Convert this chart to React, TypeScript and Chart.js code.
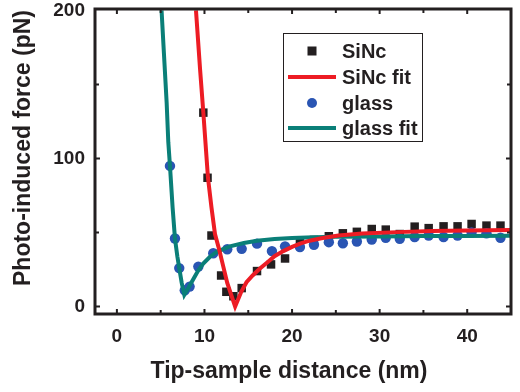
import React, { useEffect, useRef } from "react";
import { Chart, registerables } from "chart.js";

Chart.register(...registerables);

// ---- Data ----
const sincX = [9.87, 10.35, 10.8, 11.9, 12.5, 13.3, 14.25, 16.0, 17.6, 19.2, 20.9, 22.5, 24.2, 25.8, 27.4, 29.1, 30.7, 32.3, 34.0, 35.6, 37.3, 38.9, 40.5, 42.2, 43.8, 45.4];
const sincY = [131, 87, 48, 21, 10, 7, 12.5, 24, 28.5, 32.5, 43, 45, 47.5, 49.5, 50.5, 52.4, 52, 49, 54, 53, 54.2, 54.2, 55.8, 54.7, 54.7, 55];

const glassX = [6.06, 6.63, 7.12, 7.75, 8.3, 9.3, 11.0, 12.6, 14.25, 16.0, 17.7, 19.2, 20.9, 22.5, 24.2, 25.8, 27.4, 29.1, 30.7, 32.3, 34.0, 35.6, 37.3, 38.9, 40.5, 42.2, 43.8, 45.4];
const glassY = [95, 46, 26, 11, 13.5, 27, 36, 38.7, 39, 42.5, 37.5, 40.7, 40.2, 41.8, 43.5, 42.8, 44, 45.3, 46.5, 45.8, 47, 48, 47, 48, 50, 49.5, 46.5, 50];

const sincFitX = [9.03, 9.5, 9.87, 10.4, 10.8, 11.2, 11.7, 12.15, 12.6, 13.5, 14.2, 14.8, 15.5, 16.3, 17.2, 18.0, 19.0, 20.0, 21.0, 22.0, 23.5, 25.3, 28.0, 32.0, 36.0, 40.0, 45.0];
const sincFitY = [200, 160, 131, 87, 67, 49, 38, 27, 16, 0, 10, 16.5, 21, 25.5, 30, 34, 37.5, 40.3, 42.7, 44.5, 46.3, 48, 49.3, 50.3, 51, 51.4, 51.8];

const glassFitX = [5.1, 5.37, 5.68, 5.87, 6.06, 6.36, 6.63, 6.9, 7.12, 7.4, 7.7, 8.2, 8.72, 9.3, 9.86, 10.6, 11.4, 12.9, 14.5, 16.0, 18.0, 20.0, 22.5, 25.0, 30.0, 35.0, 40.0, 45.0];
const glassFitY = [200, 171, 138, 111, 95, 67, 46, 34, 26, 16, 8, 13, 18.5, 24.5, 29, 33.5, 37, 40.7, 43, 44.5, 45.7, 46.3, 46.8, 47.1, 47.4, 47.6, 47.7, 47.8];

const xTicks = [0, 10, 20, 30, 40];
const xMinorTicks = [5, 15, 25, 35, 45];
const yTicks = [0, 100, 200];
const yMinorTicks = [50, 150];

const legendLabels = ["SiNc", "SiNc fit", "glass", "glass fit"];
const xTitle = "Tip-sample distance (nm)";
const yTitle = "Photo-induced force (pN)";

const INK = "#231f20";
const RED = "#ed1c24";
const TEAL = "#0a7f78";
const BLUE = "#2a55b3";
const FONT = '"Liberation Sans", Arial, Helvetica, sans-serif';

const zip = (xs: number[], ys: number[]) => xs.map((x, i) => ({ x, y: ys[i] }));

const framePlugin = {
  id: "frameAndLegend",
  afterDraw(chart: any) {
    const { ctx, chartArea: a, scales } = chart;
    const xs = scales.x;
    const ys = scales.y;
    ctx.save();
    // frame
    ctx.strokeStyle = INK;
    ctx.lineWidth = 3;
    ctx.strokeRect(a.left, a.top, a.right - a.left, a.bottom - a.top);
    // inward ticks
    ctx.lineWidth = 2;
    const drawX = (v: number, len: number) => {
      const p = xs.getPixelForValue(v);
      if (p < a.left + 2 || p > a.right - 2) return;
      ctx.beginPath();
      ctx.moveTo(p, a.bottom);
      ctx.lineTo(p, a.bottom - len);
      ctx.moveTo(p, a.top);
      ctx.lineTo(p, a.top + len);
      ctx.stroke();
    };
    const drawY = (v: number, len: number) => {
      const p = ys.getPixelForValue(v);
      if (p < a.top + 2 || p > a.bottom - 2) return;
      ctx.beginPath();
      ctx.moveTo(a.left, p);
      ctx.lineTo(a.left + len, p);
      ctx.moveTo(a.right, p);
      ctx.lineTo(a.right - len, p);
      ctx.stroke();
    };
    xTicks.forEach((v) => drawX(v, 5));
    xMinorTicks.forEach((v) => drawX(v, 4));
    yTicks.forEach((v) => drawY(v, 5));
    yMinorTicks.forEach((v) => drawY(v, 4));

    // axis titles
    ctx.fillStyle = INK;
    ctx.font = `bold 23px ${FONT}`;
    ctx.textAlign = "center";
    ctx.textBaseline = "middle";
    ctx.fillText(xTitle, 289, 372);
    ctx.save();
    ctx.translate(24, 148);
    ctx.rotate(-Math.PI / 2);
    ctx.fillText(yTitle, 0, 0);
    ctx.restore();

    // legend
    const bx = 283, by = 33, bw = 139, bh = 108;
    ctx.fillStyle = "#ffffff";
    ctx.fillRect(bx, by, bw, bh);
    ctx.strokeStyle = INK;
    ctx.lineWidth = 1;
    ctx.strokeRect(bx + 0.5, by + 0.5, bw, bh);
    const rows = [51, 77, 103, 128];
    const mx = 312;
    ctx.fillStyle = INK;
    ctx.fillRect(mx - 4.5, rows[0] - 4.5, 9, 9);
    ctx.strokeStyle = RED;
    ctx.lineWidth = 4;
    ctx.beginPath();
    ctx.moveTo(288, rows[1]);
    ctx.lineTo(336, rows[1]);
    ctx.stroke();
    ctx.fillStyle = BLUE;
    ctx.beginPath();
    ctx.arc(mx, rows[2], 5, 0, Math.PI * 2);
    ctx.fill();
    ctx.strokeStyle = TEAL;
    ctx.beginPath();
    ctx.moveTo(288, rows[3]);
    ctx.lineTo(336, rows[3]);
    ctx.stroke();
    ctx.fillStyle = INK;
    ctx.font = `bold 20px ${FONT}`;
    ctx.textAlign = "left";
    legendLabels.forEach((t, i) => ctx.fillText(t, 342, rows[i] + 1));
    ctx.restore();
  },
};

export default function App() {
  const ref = useRef<HTMLCanvasElement | null>(null);
  useEffect(() => {
    document.body.style.margin = "0";
    const canvas = ref.current;
    if (!canvas) return;
    const chart = new Chart(canvas, {
      type: "scatter",
      data: {
        datasets: [
          {
            label: legendLabels[1],
            data: zip(sincFitX, sincFitY),
            showLine: true,
            borderColor: RED,
            borderWidth: 4,
            pointRadius: 0,
            tension: 0,
            order: 0,
            clip: 0,
          },
          {
            label: legendLabels[3],
            data: zip(glassFitX, glassFitY),
            showLine: true,
            borderColor: TEAL,
            borderWidth: 4,
            pointRadius: 0,
            tension: 0,
            order: 1,
            clip: 0,
          },
          {
            label: legendLabels[2],
            data: zip(glassX, glassY),
            pointStyle: "circle",
            pointRadius: 5.2,
            backgroundColor: BLUE,
            borderWidth: 0,
            order: 2,
            clip: 0,
          },
          {
            label: legendLabels[0],
            data: zip(sincX, sincY),
            pointStyle: "rect",
            pointRadius: 6,
            backgroundColor: INK,
            borderWidth: 0,
            order: 3,
            clip: 0,
          },
        ],
      } as any,
      options: {
        animation: false,
        responsive: false,
        maintainAspectRatio: false,
        layout: { padding: { left: 0, top: 9, right: 9, bottom: 0 } },
        plugins: { legend: { display: false }, tooltip: { enabled: false } },
        scales: {
          x: {
            type: "linear",
            min: -2.5,
            max: 45,
            afterFit: (s: any) => {
              s.height = 78;
              s.paddingLeft = 0;
              s.paddingRight = 0;
            },
            afterBuildTicks: (s: any) => {
              s.ticks = xTicks.map((v) => ({ value: v }));
            },
            grid: { display: false, drawTicks: false },
            border: { display: false },
            ticks: {
              padding: 11,
              color: INK,
              font: { family: FONT, size: 19, weight: "bold" },
              maxRotation: 0,
            },
          },
          y: {
            type: "linear",
            min: -5,
            max: 201,
            afterFit: (s: any) => {
              s.width = 95;
              s.paddingTop = 0;
              s.paddingBottom = 0;
            },
            afterBuildTicks: (s: any) => {
              s.ticks = yTicks.map((v) => ({ value: v }));
            },
            grid: { display: false, drawTicks: false },
            border: { display: false },
            ticks: {
              padding: 10,
              color: INK,
              font: { family: FONT, size: 19, weight: "bold" },
            },
          },
        },
      } as any,
      plugins: [framePlugin],
    });
    return () => chart.destroy();
  }, []);
  return (
    <div style={{ width: 520, height: 392, background: "#fff" }}>
      <canvas ref={ref} width={520} height={392} style={{ display: "block" }} />
    </div>
  );
}
